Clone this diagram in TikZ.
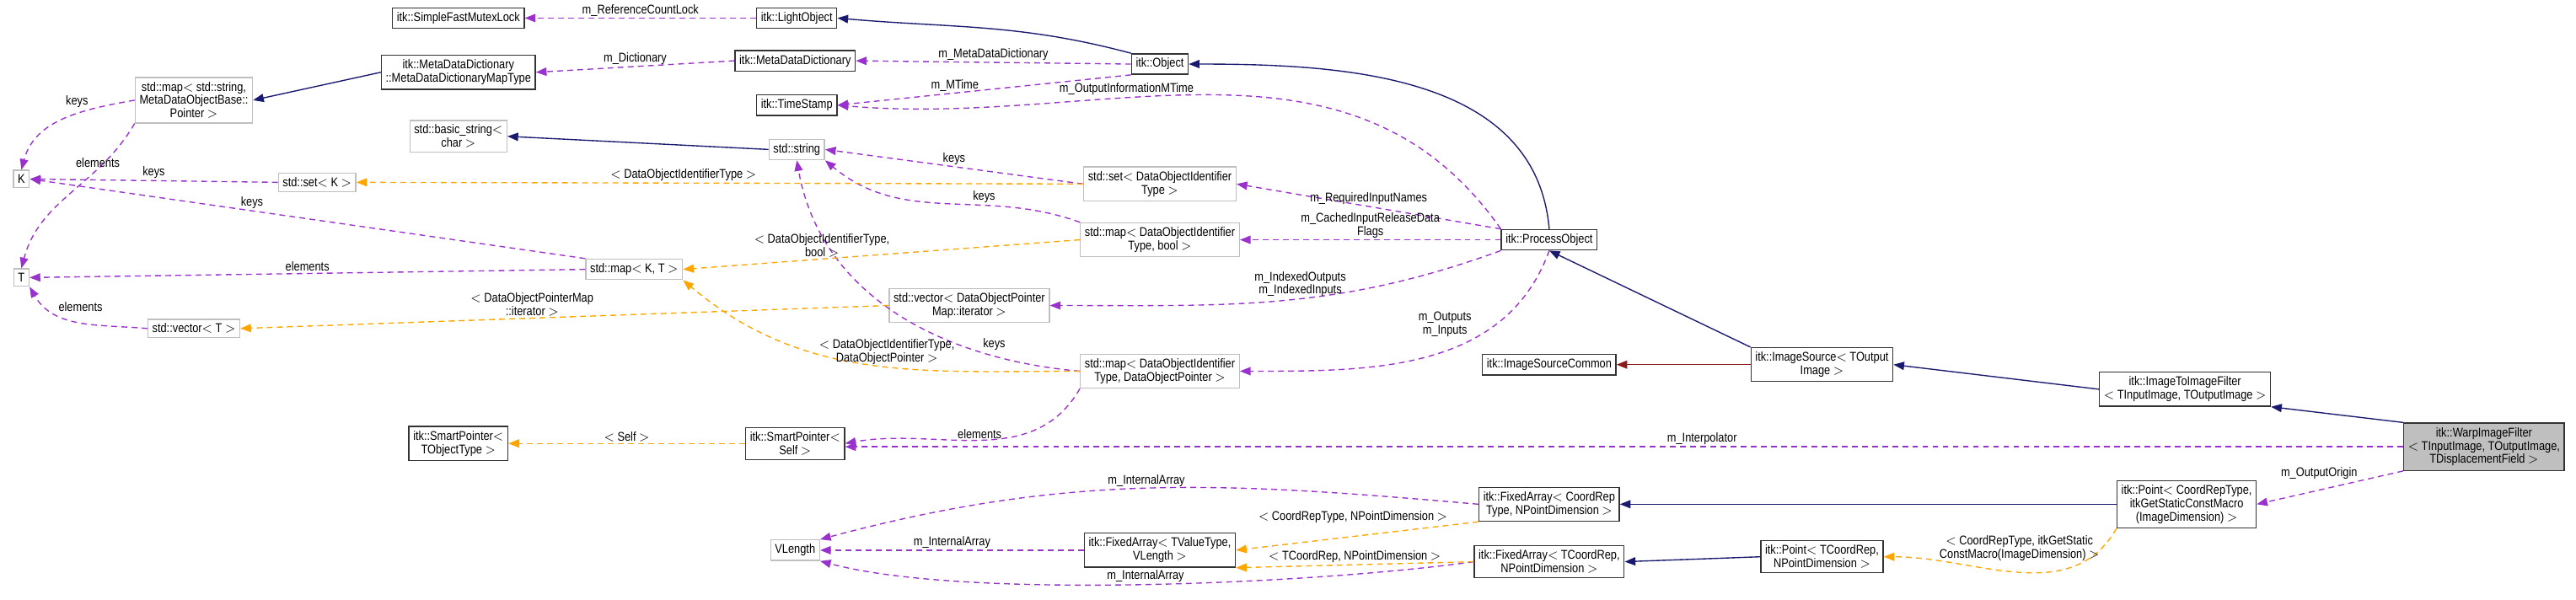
\documentclass[tikz,border=0pt]{standalone}
\usepackage{fontspec}
\setmainfont[FakeStretch=0.85]{Liberation Sans}
\usetikzlibrary{arrows.meta}
\definecolor{memcol}{RGB}{153,50,204}
\definecolor{tplcol}{RGB}{255,165,0}
\definecolor{inhcol}{RGB}{25,25,112}
\definecolor{usecol}{RGB}{139,26,26}
\tikzset{
  box/.style={draw=black!80, fill=white, thick, align=center, inner xsep=3pt,
    inner ysep=3pt, font=\fontsize{8.8}{9.3}\selectfont},
  ext/.style={box, draw=black!25},
  self/.style={box, fill=black!25},
  tip/.style={-{Triangle[length=0.26cm,width=0.2cm]}},
  mem/.style={tip, draw=memcol, thick, dash pattern=on 4pt off 3pt},
  tpl/.style={mem, draw=tplcol},
  inh/.style={tip, draw=inhcol, thick},
  use/.style={inh, draw=usecol},
  lab/.style={font=\fontsize{8.8}{9.3}\selectfont, align=center, inner sep=1pt, text=black}
}
\begin{document}
\begin{tikzpicture}[x=0.04cm,y=-0.04cm]
\useasboundingbox (0,0) rectangle (1568,365);

% classes
\node[box] (sfml) at (279,11) {itk::SimpleFastMutexLock};
\node[box] (lo) at (485,11) {itk::LightObject};
\node[box] (mddmap) at (279,44) {itk::MetaDataDictionary\\::MetaDataDictionaryMapType};
\node[box] (mdd) at (484,37) {itk::MetaDataDictionary};
\node[box] (obj) at (706,39) {itk::Object};
\node[box] (ts) at (485,64) {itk::TimeStamp};
\node[ext] (msmap) at (118,61) {std::map$<$ std::string,\\MetaDataObjectBase::\\Pointer $>$};
\node[ext] (bstr) at (279,83) {std::basic\_string$<$\\char $>$};
\node[ext] (str) at (485,91) {std::string};
\node[ext] (K) at (13,109) {K};
\node[ext] (T) at (13,169) {T};
\node[ext] (setK) at (193,111) {std::set$<$ K $>$};
\node[ext] (mkt) at (386,164) {std::map$<$ K, T $>$};
\node[ext] (vecT) at (118,200) {std::vector$<$ T $>$};
\node[ext] (setid) at (706,112) {std::set$<$ DataObjectIdentifier\\Type $>$};
\node[ext] (mapbool) at (706,146) {std::map$<$ DataObjectIdentifier\\Type, bool $>$};
\node[ext] (vecit) at (590,186) {std::vector$<$ DataObjectPointer\\Map::iterator $>$};
\node[ext] (mapdop) at (706,226) {std::map$<$ DataObjectIdentifier\\Type, DataObjectPointer $>$};
\node[box] (po) at (943,146) {itk::ProcessObject};
\node[box] (isc) at (943,222) {itk::ImageSourceCommon};
\node[box] (is) at (1109,222) {itk::ImageSource$<$ TOutput\\Image $>$};
\node[box] (i2i) at (1330,237) {itk::ImageToImageFilter\\$<$ TInputImage, TOutputImage $>$};
\node[self] (warp) at (1512,272) {itk::WarpImageFilter\\$<$ TInputImage, TOutputImage,\\TDisplacementField $>$};
\node[box] (spT) at (279,270) {itk::SmartPointer$<$\\TObjectType $>$};
\node[box] (spS) at (484,270) {itk::SmartPointer$<$\\Self $>$};
\node[ext] (vlen) at (484,335) {VLength};
\node[box] (fatv) at (706,335) {itk::FixedArray$<$ TValueType,\\VLength $>$};
\node[box] (facr) at (943,307) {itk::FixedArray$<$ CoordRep\\Type, NPointDimension $>$};
\node[box] (fatc) at (943,342) {itk::FixedArray$<$ TCoordRep,\\NPointDimension $>$};
\node[box] (ptcr) at (1331,307) {itk::Point$<$ CoordRepType,\\itkGetStaticConstMacro\\(ImageDimension) $>$};
\node[box] (pttc) at (1109,339) {itk::Point$<$ TCoordRep,\\NPointDimension $>$};

% inheritance
\draw[inh] (obj.north west) to[out=165,in=-5] (lo.east);
\draw[inh] (mddmap.west) -- (msmap.east);
\draw[inh] (str.west) -- (bstr.east);
\draw[inh] (po.north) to[out=95,in=0] (obj.east);
\draw[inh] (is.north west) -- (po.south);
\draw[use] (is.west) -- (isc.east);
\draw[inh] (i2i.west) -- (is.east);
\draw[inh] (warp.north west) -- (i2i.south east);
\draw[inh] (ptcr.west |- facr) -- (facr.east);
\draw[inh] (pttc.west) -- (fatc.east);

% members
\draw[mem] (lo.west) -- node[lab,above]{m\_ReferenceCountLock} (sfml.east);
\draw[mem] (mdd.west) -- node[lab,above]{m\_Dictionary} (mddmap.east);
\draw[mem] (obj.west) -- node[lab,above]{m\_MetaDataDictionary} (mdd.east);
\draw[mem] (obj.south west) -- node[lab,above,pos=0.6]{m\_MTime} (ts.east);
\draw[mem] (po.north west) to[out=125,in=-5] node[lab,above,pos=0.62]{m\_OutputInformationMTime} (ts.east);
\draw[mem] (msmap.west) to[out=190,in=75] node[lab,above left,pos=0.3]{keys} (K.north);
\draw[mem] (msmap.south west) to[out=-120,in=75] node[lab,above,pos=0.3]{elements} (T.north);
\draw[mem] (setK.west) -- node[lab,above]{keys} (K.east);
\draw[mem] (mkt.north west) -- node[lab,above,pos=0.6]{keys} (K.east);
\draw[mem] (mkt.west) -- node[lab,above]{elements} (T.east);
\draw[mem] (vecT.west) to[out=175,in=-60] node[lab,above right,pos=0.7]{elements} (T.south east);
\draw[mem] (setid.west) -- node[lab,above]{keys} (str.east);
\draw[mem] (mapbool.north west) to[out=160,in=-40] node[lab,above,pos=0.35]{keys} (str.south east);
\draw[mem] (mapdop.west) to[out=175,in=-80] node[lab,above right,pos=0.25]{keys} (str.south);
\draw[mem] (mapdop.south west) to[out=-120,in=10] node[lab,above,pos=0.5]{elements} (spS.east);
\draw[mem] (po.north west) -- node[lab,above]{m\_RequiredInputNames} (setid.east);
\draw[mem] (po.west) -- node[lab,above]{m\_CachedInputReleaseData\\Flags} (mapbool.east);
\draw[mem] (po.south west) to[out=200,in=0] node[lab,above,pos=0.45]{m\_IndexedOutputs\\m\_IndexedInputs} (vecit.east);
\draw[mem] (po.south) to[out=-110,in=0] node[lab,above left,pos=0.35]{m\_Outputs\\m\_Inputs} (mapdop.east);
\draw[mem] (warp.west) -- node[lab,above,pos=0.45]{m\_Interpolator} (spS.east |- warp.west);
\draw[mem] (warp.south west) -- node[lab,above left,pos=0.3]{m\_OutputOrigin} (ptcr.east);
\draw[mem] (facr.west) to[out=175,in=15] node[lab,above]{m\_InternalArray} (vlen.north east);
\draw[mem] (fatv.west) -- node[lab,above]{m\_InternalArray} (vlen.east);
\draw[mem] (fatc.west) to[out=-172,in=-15,looseness=0.6] node[lab,above,pos=0.5]{m\_InternalArray} (vlen.south east);

% templates
\draw[tpl] (setid.west) -- node[lab,above,pos=0.55]{$<$ DataObjectIdentifierType $>$} (setK.east);
\draw[tpl] (mapbool.west) -- node[lab,above,pos=0.65]{$<$ DataObjectIdentifierType,\\bool $>$} (mkt.east);
\draw[tpl] (mapdop.west) to[out=180,in=-40] node[lab,above,pos=0.45]{$<$ DataObjectIdentifierType,\\DataObjectPointer $>$} (mkt.south east);
\draw[tpl] (vecit.west) -- node[lab,above,pos=0.55]{$<$ DataObjectPointerMap\\::iterator $>$} (vecT.east);
\draw[tpl] (spS.west) -- node[lab,above]{$<$ Self $>$} (spT.east);
\draw[tpl] (facr.south west) -- node[lab,above left,pos=0.12]{$<$ CoordRepType, NPointDimension $>$} (fatv.east);
\draw[tpl] (fatc.west) -- node[lab,above]{$<$ TCoordRep, NPointDimension $>$} (fatv.south east);
\draw[tpl] (ptcr.south west) to[out=-120,in=0] node[lab,left,pos=0.1]{$<$ CoordRepType, itkGetStatic\\ConstMacro(ImageDimension) $>$} (pttc.east);
\end{tikzpicture}
\end{document}
